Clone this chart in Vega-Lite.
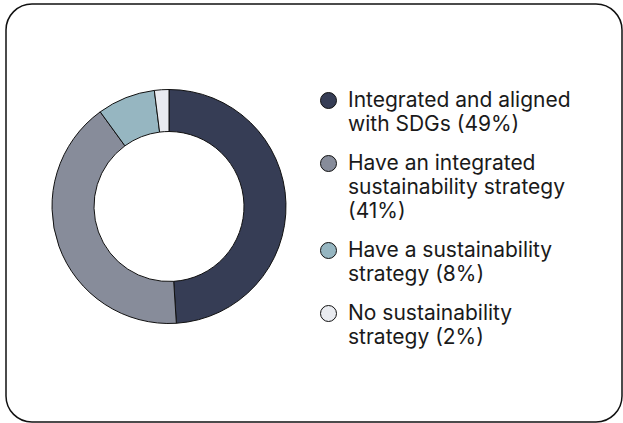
{
  "$schema": "https://vega.github.io/schema/vega-lite/v6.json",
  "autosize": {"type": "fit", "contains": "padding"},
  "width": 623,
  "height": 423,
  "padding": {"left": 6, "top": 4, "right": 1, "bottom": 1},
  "background": "white",
  "config": {
    "view": {"stroke": "#111111", "strokeWidth": 1.5, "cornerRadius": 26},
    "style": {
      "view": {"stroke": "#111111", "strokeWidth": 1.5, "cornerRadius": 26, "fill": "white"},
      "guide-label": {"lineHeight": 24}
    },
    "font": "Inter"
  },
  "data": {
    "values": [
      {"category": "Integrated and aligned\nwith SDGs (49%)", "value": 49, "order": 1},
      {"category": "Have an integrated\nsustainability strategy\n(41%)", "value": 41, "order": 2},
      {"category": "Have a sustainability\nstrategy (8%)", "value": 8, "order": 3},
      {"category": "No sustainability\nstrategy (2%)", "value": 2, "order": 4}
    ]
  },
  "mark": {
    "type": "arc",
    "x": 163,
    "y": 202.5,
    "radius": 117,
    "radius2": 75,
    "stroke": "#111111",
    "strokeWidth": 1
  },
  "encoding": {
    "theta": {"field": "value", "type": "quantitative", "stack": true},
    "order": {"field": "order", "type": "quantitative"},
    "color": {
      "field": "category",
      "type": "nominal",
      "sort": {"field": "order"},
      "scale": {
        "domain": [
          "Integrated and aligned\nwith SDGs (49%)",
          "Have an integrated\nsustainability strategy\n(41%)",
          "Have a sustainability\nstrategy (8%)",
          "No sustainability\nstrategy (2%)"
        ],
        "range": ["#363d55", "#878c9a", "#96b6c1", "#e9ebf0"]
      },
      "legend": {
        "title": null,
        "orient": "none",
        "legendX": 312,
        "legendY": 86,
        "symbolType": "circle",
        "symbolSize": 256,
        "symbolStrokeColor": "#111111",
        "symbolStrokeWidth": 1,
        "labelFont": "Inter",
        "labelFontSize": 21,
        "labelColor": "#1a1a1a",
        "labelOffset": 9,
        "labelLimit": 400,
        "rowPadding": 17,
        "padding": 0,
        "labelExpr": "split(datum.label, '\\n')"
      }
    }
  }
}
